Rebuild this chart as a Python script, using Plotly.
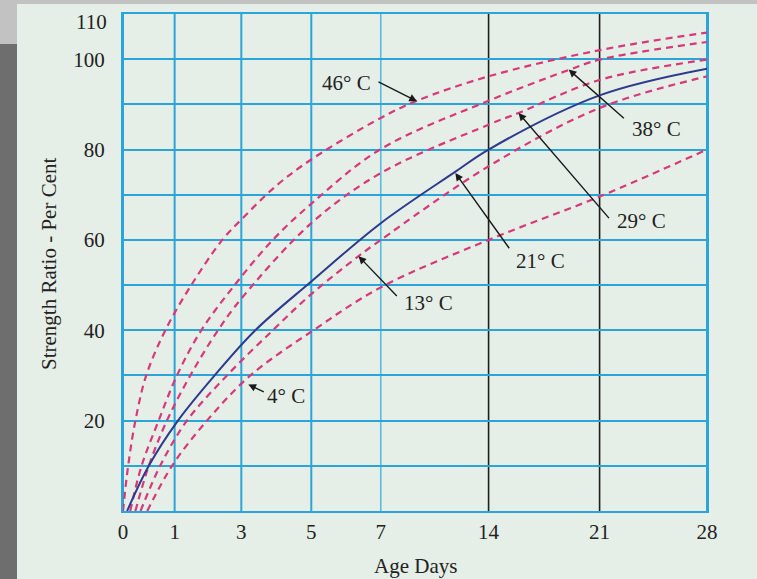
import numpy as np
import plotly.graph_objects as go

# ---- axis (the printed day scale is non-linear) ----
tick_days = [0, 1, 3, 5, 7, 14, 21, 28]
tick_labels = ["0", "1", "3", "5", "7", "14", "21", "28"]
axis_spacing = [0, 0.0884, 0.2026, 0.3224, 0.4414, 0.6260, 0.8161, 1.0]
grid_colors = ["#2aa5d9", "#2aa5d9", "#2aa5d9", "#2aa5d9", "#5cbbe0", "#1e1e1e", "#1e1e1e", "#2aa5d9"]
y_ticks = [0, 10, 20, 30, 40, 50, 60, 70, 80, 90, 100, 110]
y_labels = ["", "", "20", "", "40", "", "60", "", "80", "", "100", ""]

# ---- curves (age in days, strength ratio %) ----
days_46 = [0, 0.10, 0.24, 0.45, 0.82, 1.5, 2.43, 3, 4, 5, 7, 9.35, 14, 21, 28]
ratio_46 = [0, 10, 20, 30, 40, 50, 60, 64.5, 72, 77.8, 87, 90.8, 96.2, 102, 105.9]

days_38 = [0.14, 0.36, 0.69, 1.07, 1.8, 2.8, 3.9, 5, 7, 14, 19.05, 21, 28]
ratio_38 = [0, 10, 20, 30, 40, 50, 60, 68, 80.1, 90.8, 97.6, 99.9, 103.8]

days_29 = [0.24, 0.5, 0.85, 1.47, 2.3, 3, 5, 7, 14, 15.89, 21, 28]
ratio_29 = [0, 10, 20, 30, 40, 47, 63.7, 74.8, 85.5, 88.1, 95.4, 99.9]

days_21 = [0.08, 0.5, 1.1, 2.2, 3.4, 5, 7, 11.85, 14, 21, 28]
ratio_21 = [0, 10, 20, 30, 40, 50.8, 63.7, 75.1, 80, 92, 97.9]

days_13 = [0.34, 0.72, 1.37, 2.57, 3.9, 5, 6.36, 7, 14, 21, 28]
ratio_13 = [0, 10, 20, 30, 40, 48, 56.4, 60, 76.3, 89.2, 96.2]

days_4 = [0.47, 0.95, 1.97, 3.26, 5.06, 7, 14, 21, 28]
ratio_4 = [0, 10, 20, 30, 40, 49.5, 60, 69.6, 80]

curve_names = ["46° C", "38° C", "29° C", "21° C", "13° C", "4° C"]
curve_days = [days_46, days_38, days_29, days_21, days_13, days_4]
curve_ratio = [ratio_46, ratio_38, ratio_29, ratio_21, ratio_13, ratio_4]
curve_color = ["#d8387a", "#d8387a", "#d8387a", "#2d3a8e", "#d8387a", "#d8387a"]
curve_dash = ["7px,5px", "7px,5px", "7px,5px", "solid", "7px,5px", "7px,5px"]

# ---- labels: arrow tip on curve (day, ratio) ----
label_text = ["46° C", "38° C", "29° C", "21° C", "13° C", "4° C"]
label_tip_day = [9.35, 19.05, 15.89, 11.84, 6.36, 3.2]
label_tip_ratio = [90.7, 97.7, 88.1, 74.8, 56.4, 28.0]
label_text_shift = [(-70.7, 18.7), (87.7, -59), (123.4, -107.7), (85, -87.7), (69.7, -47.3), (38, -12)]
label_arrow_tail = [(-40, -20), (56.7, 50), (91.7, 106.7), (55, 76.7), (39.7, 41.3), (17, 8)]


def day_pos(d):
    return np.interp(d, tick_days, axis_spacing)


BG = "#e5efe7"
GRID = "#2aa5d9"
FONT = "Liberation Serif"
TXT = "#222222"

fig = go.Figure()
for name, d, r, c, dash in zip(curve_names, curve_days, curve_ratio, curve_color, curve_dash):
    fig.add_trace(go.Scatter(
        x=day_pos(d), y=r, mode="lines", name=name,
        line=dict(color=c, width=2 if dash == "solid" else 2.2, dash=dash, shape="spline", smoothing=1),
        hoverinfo="skip", showlegend=False,
    ))

shapes = []
for d, gc in zip(tick_days, grid_colors):
    xp = float(day_pos(d))
    shapes.append(dict(type="line", xref="x", yref="y", x0=xp, x1=xp, y0=0, y1=110,
                       line=dict(color=gc, width=2 if gc == GRID else 1.6), layer="below"))
# page frame (grey bands at top and left)
W, H, L, R, T, B = 757, 579, 123, 50, 14, 68
pw, ph = W - L - R, H - T - B


def px_x(p):
    return (p - L) / pw


def px_y(p):
    return 1 - (p - T) / ph


shapes.append(dict(type="rect", xref="paper", yref="paper", x0=px_x(0), x1=px_x(W), y0=px_y(4), y1=px_y(0),
                   fillcolor="#c2c2c2", line=dict(width=0), layer="below"))
shapes.append(dict(type="rect", xref="paper", yref="paper", x0=px_x(0), x1=px_x(17), y0=px_y(44), y1=px_y(0),
                   fillcolor="#c2c2c2", line=dict(width=0), layer="below"))
shapes.append(dict(type="rect", xref="paper", yref="paper", x0=px_x(0), x1=px_x(17), y0=px_y(H), y1=px_y(44),
                   fillcolor="#6e6e6e", line=dict(width=0), layer="below"))

annotations = []
for t, d, r, (sx, sy), (axp, ayp) in zip(label_text, label_tip_day, label_tip_ratio, label_text_shift, label_arrow_tail):
    xp = float(day_pos(d))
    annotations.append(dict(x=xp, y=r, xref="x", yref="y", text="", showarrow=True,
                            ax=axp, ay=ayp, arrowhead=2, arrowsize=1.1, arrowwidth=1.4,
                            arrowcolor="#1a1a1a", standoff=0, startstandoff=0))
    annotations.append(dict(x=xp, y=r, xref="x", yref="y", text=t, showarrow=False,
                            xanchor="center", yanchor="middle",
                            xshift=sx, yshift=sy, font=dict(family=FONT, size=21, color=TXT)))
# top tick label sits just below its grid line
annotations.append(dict(x=0, y=110, xref="paper", yref="y", text="110", showarrow=False,
                        xanchor="right", yanchor="middle", xshift=-14, yshift=-8,
                        font=dict(family=FONT, size=21, color=TXT)))
annotations.append(dict(x=0.5, y=px_y(566), xref="paper", yref="paper", text="Age Days", showarrow=False,
                        xanchor="center", yanchor="middle", font=dict(family=FONT, size=21, color=TXT)))
annotations.append(dict(x=px_x(49), y=px_y(264), xref="paper", yref="paper", text="Strength Ratio - Per Cent",
                        showarrow=False, textangle=-90, xanchor="center", yanchor="middle",
                        font=dict(family=FONT, size=21, color=TXT)))

fig.update_layout(
    width=W, height=H,
    margin=dict(l=L, r=R, t=T, b=B, pad=0),
    paper_bgcolor=BG, plot_bgcolor=BG,
    shapes=shapes, annotations=annotations,
    font=dict(family=FONT, size=21, color=TXT),
    xaxis=dict(range=[0, 1], tickvals=[float(v) for v in day_pos(tick_days)], ticktext=tick_labels,
               showgrid=False, zeroline=False, showline=True, mirror=True, linecolor=GRID, linewidth=2,
               ticks="", ticklabelstandoff=1, tickfont=dict(family=FONT, size=21, color=TXT), fixedrange=True),
    yaxis=dict(range=[0, 110], tickvals=y_ticks, ticktext=y_labels,
               showgrid=True, gridcolor=GRID, gridwidth=2, zeroline=False,
               showline=True, mirror=True, linecolor=GRID, linewidth=2,
               ticks="", ticklabelstandoff=12, tickfont=dict(family=FONT, size=21, color=TXT), fixedrange=True),
)

fig.write_html("out.html", config={"displayModeBar": False},
               post_script="document.body.style.margin='0';document.body.style.padding='0';"
                           "document.body.style.overflow='hidden';")
